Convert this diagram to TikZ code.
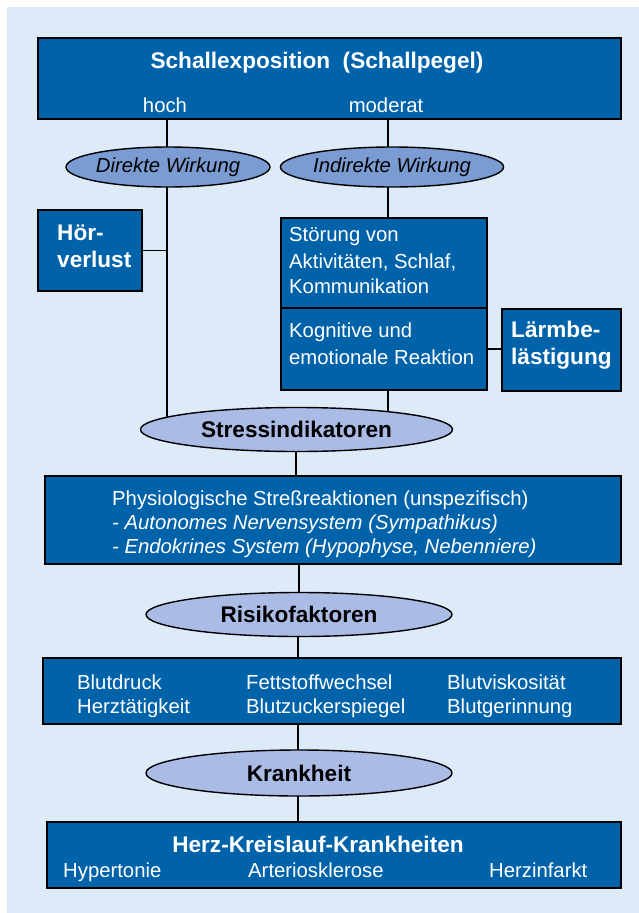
\documentclass[tikz,border=0pt]{standalone}
\usepackage{fontspec}
\setmainfont{Liberation Sans}
\usetikzlibrary{shapes.geometric}
\definecolor{boxblue}{RGB}{0,99,170}
\definecolor{ellA}{RGB}{122,156,210}
\definecolor{ellB}{RGB}{170,187,230}
\definecolor{bgblue}{RGB}{221,234,247}
\pgfdeclarelayer{back}
\pgfsetlayers{back,main}
\begin{document}
\begin{tikzpicture}[x=1pt,y=-1pt,
  box/.style={rectangle,draw=black,line width=1.6pt,fill=boxblue,inner sep=0pt,outer sep=0pt},
  ellbase/.style={ellipse,draw=black,line width=1.4pt,inner sep=0pt,outer sep=0pt},
  ellone/.style={ellbase,fill=ellA,font=\fontsize{20.3}{24}\selectfont\itshape},
  elltwo/.style={ellbase,fill=ellB,font=\fontsize{22.6}{27}\selectfont\bfseries},
  conn/.style={draw=black,line width=1.4pt},
  wreg/.style={text=white,inner sep=0pt,anchor=base west,font=\fontsize{20.3}{24}\selectfont},
  wbold/.style={text=white,inner sep=0pt,anchor=base west,font=\fontsize{22.6}{27}\selectfont\bfseries}]
\useasboundingbox (0,0) rectangle (639,913);
\begin{pgfonlayer}{back}
\fill[bgblue] (7,7) rectangle (639,913);
\end{pgfonlayer}

% boxes
\node[box,minimum width=583pt,minimum height=81pt] (top) at (329.5,78.5) {};
\node[box,minimum width=104pt,minimum height=81pt] (hoer) at (90,250.5) {};
\node[box,minimum width=206pt,minimum height=90pt] (stoer) at (384,263) {};
\node[box,minimum width=206pt,minimum height=82pt] (kogn) at (384,349) {};
\node[box,minimum width=119pt,minimum height=82pt] (laerm) at (561.5,350) {};
\node[box,minimum width=576pt,minimum height=88pt] (phys) at (333,520) {};
\node[box,minimum width=578pt,minimum height=66pt] (blut) at (332,691) {};
\node[box,minimum width=574pt,minimum height=66pt] (herz) at (334,855) {};

% ellipses
\node[ellone,minimum width=194pt,minimum height=40pt] (direkt) at (168,167) {Direkte Wirkung};
\node[ellone,minimum width=194pt,minimum height=40pt] (indirekt) at (392,167) {Indirekte Wirkung};
\node[elltwo,minimum width=312pt,minimum height=44pt] (stress) at (296.5,429.5) {Stressindikatoren};
\node[elltwo,minimum width=306pt,minimum height=44pt] (risiko) at (299,614.5) {Risikofaktoren};
\node[elltwo,minimum width=306pt,minimum height=46pt] (krank) at (299,773) {Krankheit};

% texts
\node[wbold,anchor=base] (ttitle) at (317,68) {Schallexposition\ \ (Schallpegel)};
\node[wreg,anchor=base] (thoch) at (165,112) {hoch};
\node[wreg,anchor=base] (tmod) at (386,112) {moderat};
\node[wbold] (th1) at (57,240) {Hör-};
\node[wbold] (th2) at (57,267) {verlust};
\node[wreg] (ts1) at (289,241) {Störung von};
\node[wreg] (ts2) at (289,268) {Aktivitäten, Schlaf,};
\node[wreg] (ts3) at (289,293) {Kommunikation};
\node[wreg] (tk1) at (289,337) {Kognitive und};
\node[wreg] (tk2) at (289,364) {emotionale Reaktion};
\node[wbold] (tl1) at (511,337) {Lärmbe-};
\node[wbold] (tl2) at (511,364) {lästigung};
\node[wreg] (tp1) at (112,505) {Physiologische Streßreaktionen (unspezifisch)};
\node[wreg] (tp2) at (112,529) {\itshape - Autonomes Nervensystem (Sympathikus)};
\node[wreg] (tp3) at (112,553) {\itshape - Endokrines System (Hypophyse, Nebenniere)};
\node[wreg] (tb1) at (77,689) {Blutdruck};
\node[wreg] (tb2) at (77,713) {Herztätigkeit};
\node[wreg] (tb3) at (246,689) {Fettstoffwechsel};
\node[wreg] (tb4) at (246,713) {Blutzuckerspiegel};
\node[wreg] (tb5) at (447,689) {Blutviskosität};
\node[wreg] (tb6) at (447,713) {Blutgerinnung};
\node[wbold,anchor=base] (th) at (318,852) {Herz-Kreislauf-Krankheiten};
\node[wreg] (tz1) at (63,877) {Hypertonie};
\node[wreg] (tz2) at (248,877) {Arteriosklerose};
\node[wreg] (tz3) at (489,877) {Herzinfarkt};

% connectors
\coordinate (lx) at (167,0);
\coordinate (rx) at (388,0);
\begin{pgfonlayer}{back}
\draw[conn] (top.south -| lx) -- (direkt.center -| lx);
\draw[conn] (direkt.center -| lx) -- (stress.center -| lx);
\draw[conn] (hoer.east) -- (hoer.east -| lx);
\draw[conn] (top.south -| rx) -- (indirekt.center -| rx);
\draw[conn] (indirekt.center -| rx) -- (stoer.north -| rx);
\draw[conn] (kogn.south -| rx) -- (stress.center -| rx);
\draw[conn] (kogn.east |- 0,349) -- (laerm.west |- 0,349);
\draw[conn] (stress.center -| 296,0) -- (phys.north -| 296,0);
\draw[conn] (phys.south -| 299,0) -- (risiko.center -| 299,0);
\draw[conn] (risiko.center -| 298,0) -- (blut.north -| 298,0);
\draw[conn] (blut.south -| 298,0) -- (krank.center -| 298,0);
\draw[conn] (krank.center -| 298,0) -- (herz.north -| 298,0);
\end{pgfonlayer}
\end{tikzpicture}
\end{document}
